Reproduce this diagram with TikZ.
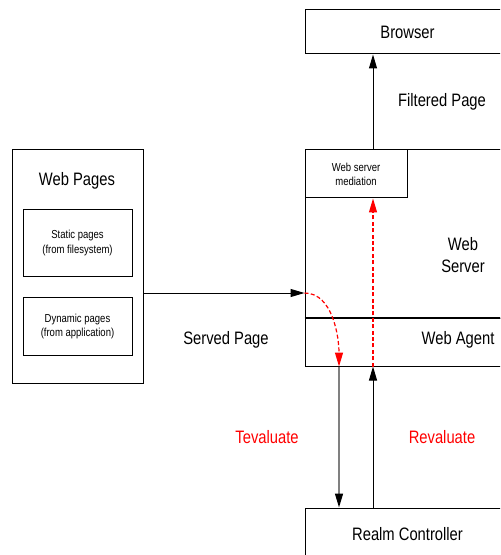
\documentclass[tikz,border=0pt]{standalone}
\usepackage{fontspec}
\setmainfont{Liberation Sans}[FakeStretch=0.82]
\usepackage{tikz}
\usetikzlibrary{calc,positioning,arrows.meta}
\tikzstyle{box}       = [draw=black, line width=0.5pt, inner sep=0pt, align=center]
\tikzstyle{big}       = [font=\fontsize{9}{11}\selectfont, align=center]
\tikzstyle{small}     = [font=\fontsize{5.8}{7}\selectfont, align=center]
\tikzstyle{arrow}     = [line width=0.5pt,-{Triangle[width=4pt,length=7pt,color=black]}]
\tikzstyle{redarrow}  = [line width=0.6pt,draw=red,dash pattern=on 2pt off 1.2pt,-{Triangle[width=4pt,length=7pt,color=red]}]
\begin{document}
\begin{tikzpicture}[x=0.5pt,y=-0.5pt]
        \useasboundingbox (0,0) rectangle (500,555);
        \clip (0,0) rectangle (500,555);

        % boxes
        \node[box, big, minimum width=102.5pt, minimum height=22pt] (browser) at (407.5,32) {Browser};
        \node[box, minimum width=65.5pt, minimum height=116.5pt] (webpages) at (77.5,266.5) {};
        \node[big] (wptitle) at (77,181) {Web Pages};
        \node[box, small, minimum width=54.5pt, minimum height=33pt] (static) at (77.5,243) {Static pages\\(from filesystem)};
        \node[box, small, minimum width=54.5pt, minimum height=29pt] (dynamic) at (77.5,326) {Dynamic pages\\(from application)};
        \node[box, minimum width=102.5pt, minimum height=84pt] (server) at (407.5,234) {};
        \node[box, minimum width=102.5pt, minimum height=24pt] (agent) at (407.5,342) {};
        \draw[line width=1pt] (agent.north west) -- (agent.north east);
        \node[box, small, minimum width=51pt, minimum height=24pt] (medi) at (356,174) {Web server\\mediation};
        \node[box, big, minimum width=102.5pt, minimum height=26pt] (realm) at (407.5,534) {Realm Controller};

        % labels
        \node[big] (srvtext) at (463,255) {Web\\Server};
        \node[big] (agtext) at (458,340) {Web Agent};
        \node[big] (filtered) at (442,102) {Filtered Page};
        \node[big] (served) at (226,340) {Served Page};
        \node[big, text=red] (teval) at (267,437) {Tevaluate};
        \node[big, text=red] (reval) at (442,437) {Revaluate};

        % connectors
        \coordinate (ax) at (373,0);
        \coordinate (bx) at (339,0);
        \coordinate (sy) at (0,293);
        \draw[arrow] (server.north -| ax) -- (browser.south -| ax);
        \draw[arrow] (webpages.east |- sy) -- (server.west |- sy);
        \draw[redarrow] (server.west |- sy) to[out=0, in=90, looseness=0.9] (agent.south -| bx);
        \draw[redarrow] (agent.south -| ax) -- (medi.south -| ax);
        \draw[arrow, draw=gray, line width=0.7pt] (agent.south -| bx) -- (realm.north -| bx);
        \draw[arrow] (realm.north -| ax) -- (agent.south -| ax);
\end{tikzpicture}
\end{document}
